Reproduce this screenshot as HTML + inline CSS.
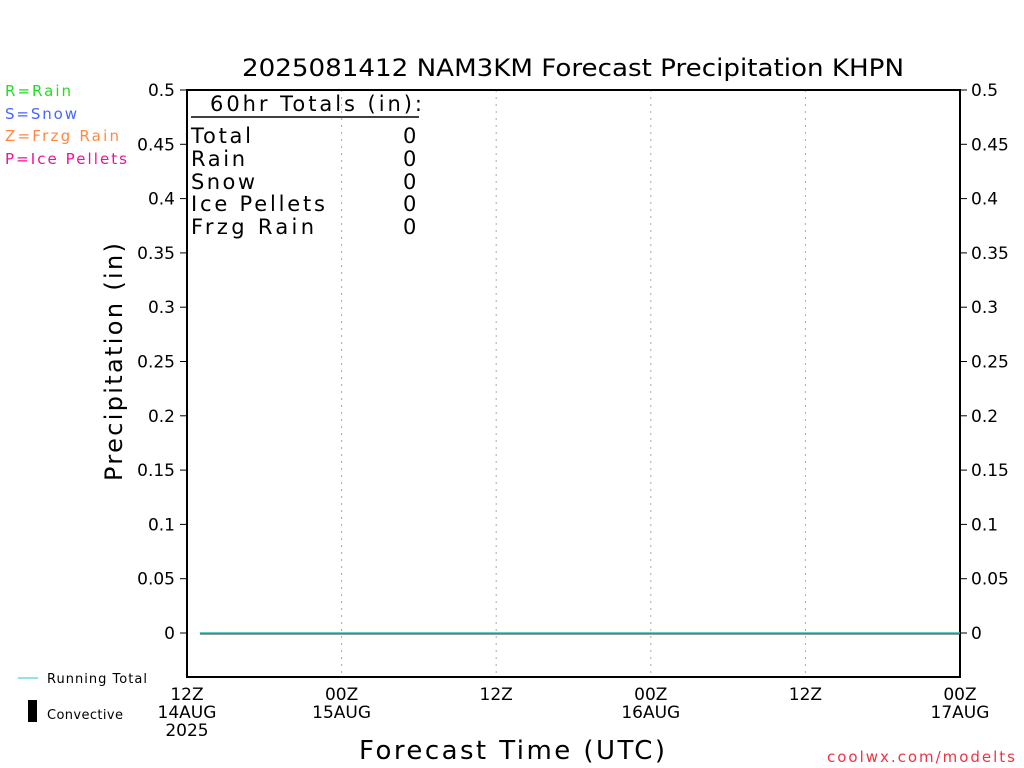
<!DOCTYPE html>
<html><head><meta charset="utf-8"><style>
body{margin:0;background:#fff}
svg{display:block;font-family:"DejaVu Sans","Liberation Sans",sans-serif}
</style></head><body>
<svg id="chart" width="1024" height="768" viewBox="0 0 1024 768">
<text x="573" y="76" text-anchor="middle" font-size="24" fill="#000" textLength="662" lengthAdjust="spacingAndGlyphs">2025081412 NAM3KM Forecast Precipitation KHPN</text>
<g font-size="15">
<text x="5" y="96" fill="#22dd22" textLength="66">R=Rain</text>
<text x="5" y="119" fill="#4466ff" textLength="72">S=Snow</text>
<text x="5" y="141" fill="#ff8844" textLength="114">Z=Frzg Rain</text>
<text x="5" y="164" fill="#ee1199" textLength="122">P=Ice Pellets</text>
</g>
<g id="grid"></g>
<rect x="187" y="90" width="773" height="587" fill="none" stroke="#000" stroke-width="2"/>
<g id="yaxis" font-size="17"></g>
<g id="xaxis" font-size="17"></g>
<g id="series"></g>
<g font-size="21">
<text x="210" y="111" textLength="212">60hr Totals (in):</text>
<line x1="191" y1="117" x2="419" y2="117" stroke="#000" stroke-width="1.5"/>
<text x="191" y="143" textLength="60">Total</text><text x="403" y="143">0</text>
<text x="191" y="166" textLength="54">Rain</text><text x="403" y="166">0</text>
<text x="191" y="189" textLength="64">Snow</text><text x="403" y="189">0</text>
<text x="191" y="211" textLength="134">Ice Pellets</text><text x="403" y="211">0</text>
<text x="191" y="234" textLength="123">Frzg Rain</text><text x="403" y="234">0</text>
</g>
<text transform="translate(122,362) rotate(-90)" text-anchor="middle" font-size="24" textLength="238">Precipitation (in)</text>
<text x="512" y="759" text-anchor="middle" font-size="26" textLength="306">Forecast Time (UTC)</text>
<text x="1015" y="762" text-anchor="end" font-size="15" fill="#ee3344" textLength="188">coolwx.com/modelts</text>
<line x1="18" y1="678" x2="38" y2="678" stroke="#22cccc"/>
<text x="47" y="683" font-size="13" textLength="100">Running Total</text>
<rect x="28" y="700" width="9" height="22" fill="#000"/>
<text x="47" y="719" font-size="13" textLength="76">Convective</text>
</svg>
<script>
const yTicks=[0,0.05,0.1,0.15,0.2,0.25,0.3,0.35,0.4,0.45,0.5];
const xTickHours=[0,12,24,36,48,60];
const xTickLabels=[["12Z","14AUG","2025"],["00Z","15AUG"],["12Z"],["00Z","16AUG"],["12Z"],["00Z","17AUG"]];
const hours=[1,2,3,4,5,6,7,8,9,10,11,12,13,14,15,16,17,18,19,20,21,22,23,24,25,26,27,28,29,30,31,32,33,34,35,36,37,38,39,40,41,42,43,44,45,46,47,48,49,50,51,52,53,54,55,56,57,58,59,60];
const runningTotal=[0,0,0,0,0,0,0,0,0,0,0,0,0,0,0,0,0,0,0,0,0,0,0,0,0,0,0,0,0,0,0,0,0,0,0,0,0,0,0,0,0,0,0,0,0,0,0,0,0,0,0,0,0,0,0,0,0,0,0,0];
const NS="http://www.w3.org/2000/svg";
const X=h=>187+h*(773/60);
const Y=v=>633-v*1086;
function mk(t,a,p){const e=document.createElementNS(NS,t);for(const k in a)e.setAttribute(k,a[k]);p.appendChild(e);return e;}
const ya=document.getElementById('yaxis'),xa=document.getElementById('xaxis'),g=document.getElementById('grid'),ser=document.getElementById('series');
yTicks.forEach(v=>{
 const y=Y(v);
 const l=mk('line',{x1:180,y1:y,x2:187,y2:y,stroke:'#000'},ya);
 
 
 const r=mk('line',{x1:960,y1:y,x2:967,y2:y,stroke:'#000'},ya);
 
 
 const t1=mk('text',{x:175,y:y+6,'text-anchor':'end'},ya);t1.textContent=String(v);
 
 
 const t2=mk('text',{x:971,y:y+6},ya);t2.textContent=String(v);
 
 
});
xTickHours.forEach((h,i)=>{
 const x=X(h);
 if(i>0 && i!==xTickHours.length-1){const gl=mk('line',{x1:x,y1:90,x2:x,y2:677,stroke:'#aaa','stroke-dasharray':'2,5'},g);
 
 }
 xTickLabels[i].forEach((s2,j)=>{const t=mk('text',{x:x,y:700+j*18,'text-anchor':'middle'},xa);t.textContent=s2;
 
 });
});
const z=mk('line',{x1:X(hours[0]),y1:Y(0)+1,x2:X(60),y2:Y(0)+1,stroke:'#333'},ser);


const pl=mk('polyline',{points:hours.map((h,i)=>X(h)+','+Y(runningTotal[i])).join(' '),fill:'none',stroke:'#22bbbb','stroke-width':1.5},ser);


</script>
</body></html>
